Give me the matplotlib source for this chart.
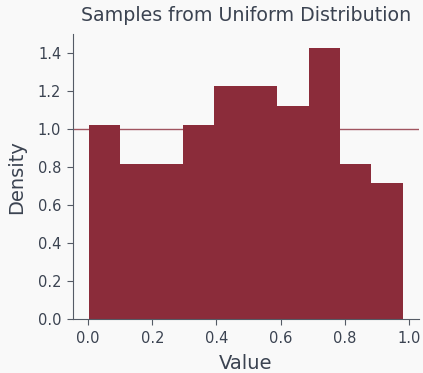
import numpy as np
from matplotlib import pyplot as plt

# 100 samples binned into 10 bins
bin_edges = np.linspace(0.0015, 0.9815, 11)
counts = [10, 8, 8, 10, 12, 12, 11, 14, 8, 7]
bin_centers = (bin_edges[:-1] + bin_edges[1:]) / 2
reference_density = 1.0

bg = '#f9f9f9'
text_color = '#3b4351'
bar_color = '#8b2c3a'

fig = plt.figure(figsize=(4.23, 3.73), dpi=100, facecolor=bg)
ax = fig.add_axes([0.1726, 0.144, 0.817, 0.765], facecolor=bg)

ax.hist(bin_centers, bins=bin_edges, weights=counts, density=True,
        color=bar_color)
ax.axhline(reference_density, color=bar_color, linewidth=1, alpha=0.8)

ax.set_ylim(0, 1.5)
ax.set_yticks([0.0, 0.2, 0.4, 0.6, 0.8, 1.0, 1.2, 1.4])
ax.set_xticks([0.0, 0.2, 0.4, 0.6, 0.8, 1.0])

for side in ['top', 'right']:
    ax.spines[side].set_visible(False)
for side in ['left', 'bottom']:
    ax.spines[side].set_color('#555b66')

ax.tick_params(colors='#555b66', labelcolor=text_color, labelsize=10.5,
               length=4.5, pad=4)
ax.set_title("Samples from Uniform Distribution", color=text_color,
             fontsize=13.7, pad=9)
ax.set_xlabel("Value", color=text_color, fontsize=14, labelpad=5.5)
ax.set_ylabel("Density", color=text_color, fontsize=14, labelpad=8)

fig.savefig('out.png', dpi=100, facecolor=bg)
